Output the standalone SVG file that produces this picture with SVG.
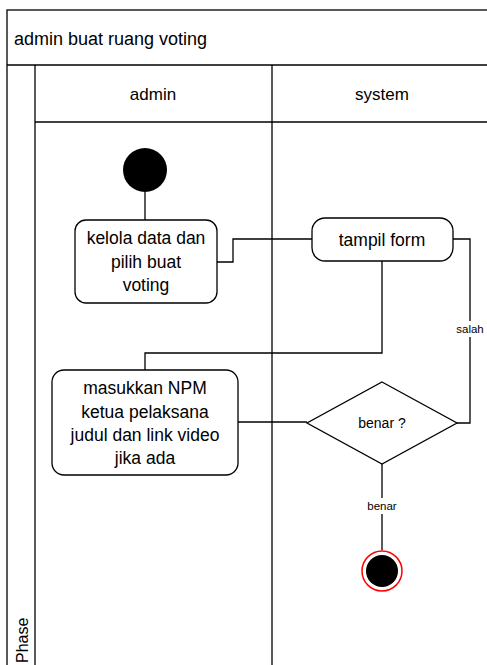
<svg xmlns="http://www.w3.org/2000/svg" width="487" height="665" viewBox="0 0 487 665">
<style>
.frame{fill:none;stroke:#000;stroke-width:1.3}
.node{fill:#fff;stroke:#000;stroke-width:1.3}
.edge{fill:none;stroke:#000;stroke-width:1.3}
text{font-family:"Liberation Sans",Arial,sans-serif;fill:#000}
.t16{font-size:17.5px;text-anchor:middle}
.lbl{font-size:11.5px;text-anchor:middle}
</style>
<rect width="487" height="665" fill="#fff"/>
<g id="pool">
<rect class="frame" x="7" y="10" width="490" height="665"/>
<line class="frame" x1="7" y1="65" x2="487" y2="65"/>
<line class="frame" x1="35" y1="65" x2="35" y2="665"/>
<line class="frame" x1="35" y1="122" x2="487" y2="122"/>
<line class="frame" x1="272" y1="65" x2="272" y2="665"/>
<text x="14" y="45" font-size="18">admin buat ruang voting</text>
<text class="t16" x="153" y="100" style="font-size:17px">admin</text>
<text class="t16" x="382" y="100" style="font-size:17px">system</text>
<text x="28" y="663" font-size="16" transform="rotate(-90 28 663)">Phase</text>
</g>
<g id="connectors">
<line class="edge" x1="145" y1="192" x2="145" y2="220"/>
<polyline class="edge" points="217,262 233,262 233,239 312,239"/>
<polyline class="edge" points="382,261 382,353 145,353 145,370"/>
<line class="edge" x1="238" y1="422" x2="307" y2="422"/>
<polyline class="edge" points="453,239 470,239 470,423 457,423"/>
<line class="edge" x1="382" y1="464" x2="382" y2="550"/>
<rect x="454" y="321" width="32" height="16" fill="#fff"/>
<text class="lbl" x="470" y="333">salah</text>
<rect x="364" y="498" width="36" height="16" fill="#fff"/>
<text class="lbl" x="382" y="510">benar</text>
</g>
<g id="start">
<circle cx="145" cy="170" r="22" fill="#000"/>
</g>
<g id="kelola">
<rect class="node" x="75" y="220" width="142" height="83" rx="11"/>
<text class="t16" x="146" y="244">kelola data dan</text>
<text class="t16" x="146" y="268">pilih buat</text>
<text class="t16" x="146" y="291">voting</text>
</g>
<g id="tampil">
<rect class="node" x="312" y="218" width="141" height="43" rx="13"/>
<text class="t16" x="382" y="246">tampil form</text>
</g>
<g id="masukkan">
<rect class="node" x="52" y="370" width="186" height="105" rx="12"/>
<text class="t16" x="145" y="394">masukkan NPM</text>
<text class="t16" x="145" y="418">ketua pelaksana</text>
<text class="t16" x="145" y="441">judul dan link video</text>
<text class="t16" x="145" y="464">jika ada</text>
</g>
<g id="decision">
<polygon class="node" points="382,382 457,423 382,464 307,423"/>
<text x="382" y="428" font-size="14" text-anchor="middle">benar ?</text>
</g>
<g id="end">
<circle cx="382" cy="571" r="20" fill="#fff" stroke="#f00" stroke-width="1.5"/>
<circle cx="382" cy="571" r="16" fill="#000"/>
</g>
</svg>
